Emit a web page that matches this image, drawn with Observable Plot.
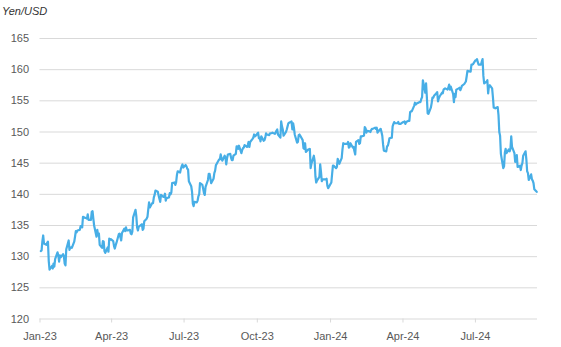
<!DOCTYPE html>
<html><head><meta charset="utf-8">
<script src="https://cdn.jsdelivr.net/npm/d3@7"></script>
<script src="https://cdn.jsdelivr.net/npm/@observablehq/plot@0.6"></script>
<style>
body{margin:0;background:#fff;}
#wrap{position:relative;width:561px;height:347px;}
#title{position:absolute;left:2px;top:5px;font:italic 11px "Liberation Sans",Arial,sans-serif;color:#333;}
#wrap svg{position:absolute;left:0;top:0;}
</style></head><body>
<div id="wrap"><div id="title">Yen/USD</div></div>
<script>
const title = "Yen/USD";
const yTicks = [120,125,130,135,140,145,150,155,160,165];
const xTickLabels = ["2023-01-01","2023-04-01","2023-07-01","2023-10-01","2024-01-01","2024-04-01","2024-07-01"];

const dates2023 = ["01-02","01-03","01-04","01-05","01-06","01-09","01-10","01-11","01-12","01-13","01-16","01-17","01-18","01-19","01-20","01-23","01-24","01-25","01-26","01-27","01-30","01-31",
"02-01","02-02","02-03","02-06","02-07","02-08","02-09","02-10","02-13","02-14","02-15","02-16","02-17","02-20","02-21","02-22","02-23","02-24","02-27","02-28",
"03-01","03-02","03-03","03-06","03-07","03-08","03-09","03-10","03-13","03-14","03-15","03-16","03-17","03-20","03-21","03-22","03-23","03-24","03-27","03-28","03-29","03-30","03-31",
"04-03","04-04","04-05","04-06","04-07","04-10","04-11","04-12","04-13","04-14","04-17","04-18","04-19","04-20","04-21","04-24","04-25","04-26","04-27","04-28",
"05-01","05-02","05-03","05-04","05-05","05-08","05-09","05-10","05-11","05-12","05-15","05-16","05-17","05-18","05-19","05-22","05-23","05-24","05-25","05-26","05-29","05-30","05-31",
"06-01","06-02","06-05","06-06","06-07","06-08","06-09","06-12","06-13","06-14","06-15","06-16","06-19","06-20","06-21","06-22","06-23","06-26","06-27","06-28","06-29","06-30",
"07-03","07-04","07-05","07-06","07-07","07-10","07-11","07-12","07-13","07-14","07-17","07-18","07-19","07-20","07-21","07-24","07-25","07-26","07-27","07-28","07-31",
"08-01","08-02","08-03","08-04","08-07","08-08","08-09","08-10","08-11","08-14","08-15","08-16","08-17","08-18","08-21","08-22","08-23","08-24","08-25","08-28","08-29","08-30","08-31",
"09-01","09-04","09-05","09-06","09-07","09-08","09-11","09-12","09-13","09-14","09-15","09-18","09-19","09-20","09-21","09-22","09-25","09-26","09-27","09-28","09-29",
"10-02","10-03","10-04","10-05","10-06","10-09","10-10","10-11","10-12","10-13","10-16","10-17","10-18","10-19","10-20","10-23","10-24","10-25","10-26","10-27","10-30","10-31",
"11-01","11-02","11-03","11-06","11-07","11-08","11-09","11-10","11-13","11-14","11-15","11-16","11-17","11-20","11-21","11-22","11-23","11-24","11-27","11-28","11-29","11-30",
"12-01","12-04","12-05","12-06","12-07","12-08","12-11","12-12","12-13","12-14","12-15","12-18","12-19","12-20","12-21","12-22","12-26","12-27","12-28","12-29"];
const values2023 = [130.9,131.0,132.5,133.4,132.1,131.9,132.2,132.4,129.3,127.9,128.5,128.1,128.9,128.4,129.6,130.7,130.2,129.2,130.2,129.9,130.4,130.1,
128.9,128.6,131.2,132.6,131.1,131.4,131.5,131.4,132.4,133.2,134.1,133.9,134.2,134.3,134.9,134.9,134.7,136.4,136.2,136.2,
136.1,136.8,135.9,135.9,137.2,137.3,136.1,135.0,133.2,134.3,133.4,133.7,131.9,131.4,132.5,132.4,130.9,130.6,131.5,130.8,132.9,132.7,132.8,
132.5,131.7,131.3,131.8,132.2,133.6,133.7,133.1,132.6,133.8,134.5,134.1,134.7,134.2,134.2,134.3,133.7,133.6,134.0,136.3,
137.5,136.5,134.7,134.2,134.8,135.1,135.2,134.3,134.5,135.7,136.1,136.4,137.6,138.7,137.9,138.6,138.6,139.5,139.9,140.6,140.4,139.8,139.3,
138.8,139.9,139.6,139.6,140.1,139.0,139.4,139.5,140.2,140.0,140.3,141.8,141.9,141.5,141.9,143.1,143.7,143.5,144.1,144.5,144.8,144.3,
144.7,144.5,144.1,144.0,142.1,141.3,140.4,138.5,138.1,138.8,138.7,139.0,139.7,140.0,141.8,141.5,140.9,140.2,139.9,141.2,142.3,
143.3,143.3,142.6,141.8,142.5,143.4,143.8,144.7,144.9,145.6,145.6,146.4,145.8,145.4,146.2,145.9,144.8,145.8,146.4,146.5,145.9,145.5,145.5,
146.2,146.5,147.7,147.7,147.3,147.8,146.6,147.1,147.4,147.5,147.9,147.6,147.9,148.4,147.6,148.4,148.9,149.1,149.6,149.3,149.4,
149.9,149.0,149.1,148.5,149.3,148.6,148.7,149.1,149.8,149.6,149.5,149.8,149.8,149.8,149.9,149.7,149.9,150.2,150.4,149.6,149.1,151.7,
150.9,150.4,149.4,150.0,150.4,150.9,151.4,151.5,151.7,150.4,151.4,150.7,149.6,148.3,148.4,149.5,149.6,149.4,148.7,147.4,147.3,148.2,
146.8,147.2,147.2,147.3,144.2,144.9,146.2,145.4,142.9,141.9,142.2,142.8,144.8,143.6,142.1,142.4,142.4,142.5,141.4,141.0];

const dates2024 = ["01-02","01-03","01-04","01-05","01-08","01-09","01-10","01-11","01-12","01-15","01-16","01-17","01-18","01-19","01-22","01-23","01-24","01-25","01-26","01-29","01-30","01-31",
"02-01","02-02","02-05","02-06","02-07","02-08","02-09","02-12","02-13","02-14","02-15","02-16","02-19","02-20","02-21","02-22","02-23","02-26","02-27","02-28","02-29",
"03-01","03-04","03-05","03-06","03-07","03-08","03-11","03-12","03-13","03-14","03-15","03-18","03-19","03-20","03-21","03-22","03-25","03-26","03-27","03-28","03-29",
"04-01","04-02","04-03","04-04","04-05","04-08","04-09","04-10","04-11","04-12","04-15","04-16","04-17","04-18","04-19","04-22","04-23","04-24","04-25","04-26","04-29","04-30",
"05-01","05-02","05-03","05-06","05-07","05-08","05-09","05-10","05-13","05-14","05-15","05-16","05-17","05-20","05-21","05-22","05-23","05-24","05-27","05-28","05-29","05-30","05-31",
"06-03","06-04","06-05","06-06","06-07","06-10","06-11","06-12","06-13","06-14","06-17","06-18","06-19","06-20","06-21","06-24","06-25","06-26","06-27","06-28",
"07-01","07-02","07-03","07-04","07-05","07-08","07-09","07-10","07-11","07-12","07-15","07-16","07-17","07-18","07-19","07-22","07-23","07-24","07-25","07-26","07-29","07-30","07-31",
"08-01","08-02","08-05","08-06","08-07","08-08","08-09","08-12","08-13","08-14","08-15","08-16","08-19","08-20","08-21","08-22","08-23","08-26","08-27","08-28","08-29","08-30",
"09-02","09-03","09-04","09-05","09-06","09-09","09-10","09-11","09-12","09-13","09-16"];
const values2024 = [141.9,143.3,144.6,144.6,144.2,144.4,145.7,145.3,144.9,145.8,147.2,148.2,148.1,148.1,148.1,148.4,147.5,147.6,148.2,147.5,147.6,146.9,
146.4,148.4,148.7,148.1,148.2,149.3,149.3,149.4,150.8,150.6,149.9,150.2,150.1,150.0,150.3,150.5,150.5,150.7,150.5,150.7,149.9,
150.1,150.5,150.0,149.4,148.0,147.0,146.9,147.7,147.8,148.3,149.0,149.1,150.9,151.3,151.6,151.4,151.4,151.6,151.3,151.3,151.3,
151.6,151.6,151.7,151.3,151.6,151.8,151.8,153.2,153.3,153.3,154.2,154.7,154.4,154.6,154.6,154.8,154.8,155.3,155.6,158.3,156.3,157.8,
155.6,153.0,152.9,153.9,154.6,155.5,155.5,155.8,156.2,156.4,154.9,155.4,155.7,156.3,156.2,156.8,156.9,157.0,156.8,157.1,157.6,156.8,157.3,
156.1,154.8,156.1,155.6,156.8,157.0,157.1,156.7,157.0,157.4,157.7,157.9,158.1,158.9,159.8,159.7,159.7,160.8,160.8,160.9,
161.5,161.5,161.7,161.2,160.8,160.8,161.3,161.7,159.0,157.8,158.1,158.3,156.2,157.4,157.5,157.0,155.6,153.9,153.9,153.8,154.0,152.7,150.0,
149.4,146.5,144.2,144.5,146.7,147.3,146.6,147.2,146.9,147.3,149.3,147.6,146.6,145.2,145.3,146.3,144.4,144.6,143.9,144.6,145.0,146.2,
146.9,145.6,143.7,143.4,142.3,143.2,142.4,142.2,141.8,140.8,140.4];

const data = [
  ...dates2023.map((d, i) => ({date: new Date("2023-" + d), value: values2023[i]})),
  ...dates2024.map((d, i) => ({date: new Date("2024-" + d), value: values2024[i]}))
];

const chart = Plot.plot({
  width: 561,
  height: 347,
  marginTop: 38,
  marginBottom: 28.5,
  marginLeft: 39.5,
  marginRight: 24,
  style: {fontFamily: '"Liberation Sans", Arial, sans-serif', fontSize: "11px", color: "#595959", background: "transparent"},
  x: {type: "utc", domain: [new Date("2023-01-01"), new Date("2024-09-17")]},
  y: {domain: [120, 165]},
  marks: [
    Plot.gridY(yTicks, {stroke: "#d9d9d9", strokeOpacity: 1, strokeWidth: 1}),
    Plot.axisY(yTicks, {tickSize: 0, tickPadding: 11, label: null, fill: "#595959"}),
    Plot.axisX(xTickLabels.map(d => new Date(d)), {tickSize: 4, tickPadding: 9, tickFormat: d3.utcFormat("%b-%y"), label: null, stroke: "#d9d9d9", fill: "#595959"}),
    Plot.lineY(data, {x: "date", y: "value", stroke: "#47aee6", strokeWidth: 2.2})
  ]
});
document.getElementById("wrap").appendChild(chart);
</script>
</body></html>
